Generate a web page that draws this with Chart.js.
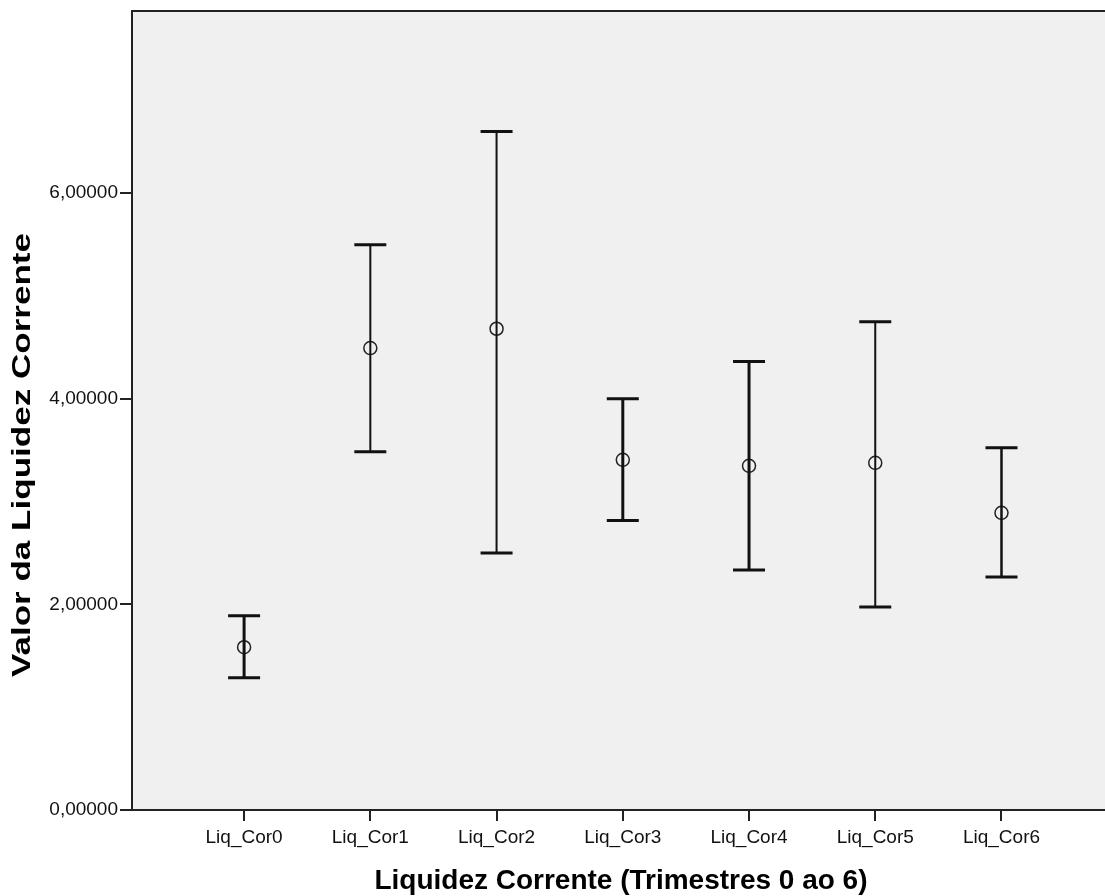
<!DOCTYPE html>
<html>
<head>
<meta charset="utf-8">
<script src="https://cdn.jsdelivr.net/npm/chart.js@4.4.1/dist/chart.umd.min.js"></script>
<style>
html,body{margin:0;padding:0;background:#fff;overflow:hidden;}
#wrap{width:1105px;height:896px;position:relative;}
canvas{display:block;}
</style>
</head>
<body>
<div id="wrap"><canvas id="c" width="1105" height="896"></canvas></div>
<script>
// ---- Data ----
const categories = ['Liq_Cor0','Liq_Cor1','Liq_Cor2','Liq_Cor3','Liq_Cor4','Liq_Cor5','Liq_Cor6'];
const means  = [1.583, 4.492, 4.680, 3.405, 3.347, 3.376, 2.890];
const upper  = [1.888, 5.497, 6.597, 3.999, 4.362, 4.748, 3.522];
const lower  = [1.287, 3.483, 2.500, 2.815, 2.335, 1.975, 2.267];
const yTicks = [0, 2, 4, 6];
const xTitle = 'Liquidez Corrente (Trimestres 0 ao 6)';
const yTitle = 'Valor da Liquidez Corrente';

// ---- Styles ----
const barWidths = [3, 2, 2, 3, 3, 2, 2.5];
const FONT = '"Liberation Sans", Arial, sans-serif';

const fmt = v => v.toFixed(5).replace('.', ',');

const plotBg = {
  id: 'plotBg',
  beforeDraw(chart) {
    const {ctx, chartArea: a} = chart;
    ctx.save();
    ctx.fillStyle = '#f0f0f0';
    ctx.fillRect(a.left, a.top, a.right - a.left, a.bottom - a.top);
    ctx.strokeStyle = '#222';
    ctx.lineWidth = 2;
    ctx.beginPath();
    ctx.moveTo(a.left, a.top);
    ctx.lineTo(a.right, a.top);
    ctx.stroke();
    ctx.restore();
  }
};

const errorBars = {
  id: 'errorBars',
  afterDatasetsDraw(chart) {
    const {ctx, scales: {x, y}} = chart;
    ctx.save();
    ctx.strokeStyle = '#111';
    means.forEach((m, i) => {
      const px = x.getPixelForValue(i);
      const pt = y.getPixelForValue(upper[i]);
      const pb = y.getPixelForValue(lower[i]);
      ctx.lineWidth = barWidths[i];
      ctx.beginPath();
      ctx.moveTo(px, pt); ctx.lineTo(px, pb);
      ctx.stroke();
      ctx.lineWidth = 3;
      const hw = 16;
      ctx.beginPath();
      ctx.moveTo(px - hw, pt); ctx.lineTo(px + hw, pt);
      ctx.moveTo(px - hw, pb); ctx.lineTo(px + hw, pb);
      ctx.stroke();
    });
    ctx.restore();
  }
};

const titles = {
  id: 'titles',
  afterDraw(chart) {
    const {ctx} = chart;
    ctx.save();
    ctx.fillStyle = '#000';
    ctx.textAlign = 'center';
    ctx.textBaseline = 'middle';
    ctx.font = 'bold 28px ' + FONT;
    ctx.fillText(xTitle, 621, 881, 493);
    ctx.restore();

    ctx.save();
    ctx.fillStyle = '#000';
    ctx.textAlign = 'center';
    ctx.textBaseline = 'middle';
    ctx.font = 'bold 25px ' + FONT;
    const w = ctx.measureText(yTitle).width;
    ctx.translate(23, 455);
    ctx.rotate(-Math.PI / 2);
    ctx.scale(444 / w, 1);
    ctx.fillText(yTitle, 0, 0);
    ctx.restore();
  }
};

new Chart(document.getElementById('c'), {
  type: 'scatter',
  data: {
    datasets: [{
      data: means.map((m, i) => ({x: i, y: m})),
      pointStyle: 'circle',
      pointRadius: 6.5,
      pointHoverRadius: 6.5,
      borderColor: '#222',
      backgroundColor: 'rgba(0,0,0,0)',
      borderWidth: 1.5
    }]
  },
  options: {
    responsive: false,
    animation: false,
    devicePixelRatio: 1,
    layout: {autoPadding: false, padding: {left: 0, right: 0, top: 11, bottom: 0}},
    plugins: {legend: {display: false}, tooltip: {enabled: false}},
    scales: {
      x: {
        type: 'linear',
        min: -0.888,
        max: 6.82,
        afterBuildTicks: s => { s.ticks = categories.map((c, i) => ({value: i})); },
        afterFit: s => { s.height = 86; s.paddingLeft = 0; s.paddingRight = 0; },
        ticks: {
          callback: (v) => categories[v] ?? '',
          color: '#111',
          font: {family: FONT, size: 19},
          padding: 5,
          maxRotation: 0,
          autoSkip: false
        },
        grid: {drawOnChartArea: false, drawTicks: true, tickLength: 11, color: '#222', lineWidth: 2},
        border: {display: true, color: '#222', width: 2}
      },
      y: {
        min: 0,
        max: 7.77,
        afterBuildTicks: s => { s.ticks = yTicks.map(v => ({value: v})); },
        afterFit: s => { s.width = 132; s.paddingTop = 0; s.paddingBottom = 0; },
        ticks: {
          callback: v => fmt(v),
          color: '#111',
          font: {family: FONT, size: 19},
          padding: 2
        },
        grid: {drawOnChartArea: false, drawTicks: true, tickLength: 12, color: '#222', lineWidth: 2},
        border: {display: true, color: '#222', width: 2}
      }
    }
  },
  plugins: [plotBg, errorBars, titles]
});
</script>
</body>
</html>
